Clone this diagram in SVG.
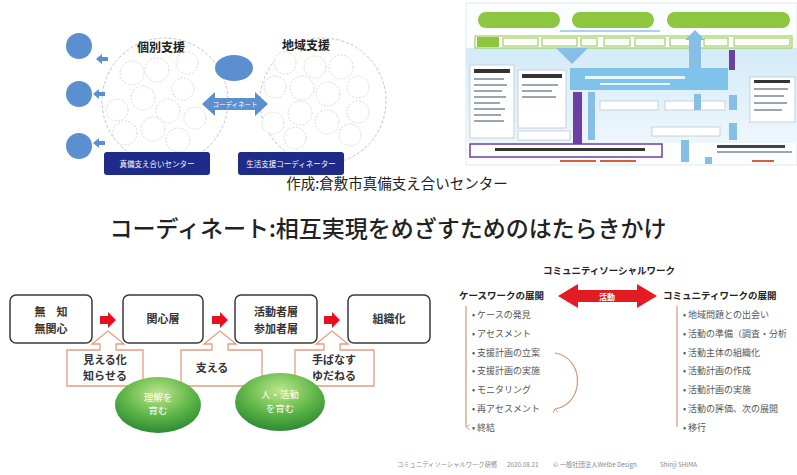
<svg xmlns="http://www.w3.org/2000/svg" width="797" height="475" viewBox="0 0 797 475">
<defs>
  <radialGradient id="grn" cx="50%" cy="30%" r="70%">
    <stop offset="0" stop-color="#bfe68f"/>
    <stop offset="0.55" stop-color="#63b84a"/>
    <stop offset="1" stop-color="#2c8a33"/>
  </radialGradient>
  <linearGradient id="sky" x1="0" y1="0" x2="0" y2="1">
    <stop offset="0" stop-color="#d4ebf8"/>
    <stop offset="1" stop-color="#eef6fc"/>
  </linearGradient>
  <marker id="ah" viewBox="0 0 10 10" refX="5" refY="9" markerWidth="5" markerHeight="5" orient="auto-start-reverse">
    <path d="M1,3 L5,9 L9,3" fill="none" stroke="#d9957a" stroke-width="1.5"/>
  </marker>
</defs>
<style>
  text{font-family:"Noto Sans CJK JP","Noto Sans",sans-serif}
  .bc{fill:#5b8fd0}
  .big{fill:#fff;stroke:#c4c4c4;stroke-width:1;stroke-dasharray:3 2}
  .sm{fill:#fff;stroke:#cfcfcf;stroke-width:0.8;stroke-dasharray:2 1.5}
  .navy{fill:#1f2b88}
  .wt{fill:#fff;text-anchor:middle}
  .ttl{font-size:12px;font-weight:bold;fill:#222;text-anchor:middle}
  .box{fill:#fff;stroke:#3a3a3a;stroke-width:1.5}
  .bt{font-size:11px;font-weight:bold;fill:#333;text-anchor:middle}
  .call{fill:#fff;stroke:#e89c7e;stroke-width:1.3}
  .ct{font-size:11px;font-weight:bold;fill:#333;text-anchor:middle}
  .ell{fill:url(#grn)}
  .et{font-size:9.5px;fill:#fff;text-anchor:middle}
  .red{fill:#e8101e}
  .li{font-size:9px;fill:#555}
  .hd{font-size:9.5px;font-weight:bold;fill:#222}
  .vl{stroke:#d9957a;stroke-width:1.2;fill:none}
  .pill{fill:#8dc63f}
  .tab{fill:#fff;stroke:#8dc63f;stroke-width:1}
  .wb{fill:#fff;stroke:#b9c9d8;stroke-width:0.8}
  .pu{fill:#6b3fa6}
  .lb{fill:#86bfe6}
  .gl{fill:#9aa6b2}
</style>

<!-- ===== Top-left diagram ===== -->
<g id="support-diagram">
  <g id="individual-support">
    <circle class="big" cx="165" cy="101" r="63"/>
    <text class="ttl" x="161" y="52">個別支援</text>
    <circle class="sm" cx="132" cy="73" r="12"/>
    <circle class="sm" cx="157" cy="70" r="12"/>
    <circle class="sm" cx="187" cy="63" r="11"/>
    <circle class="sm" cx="183" cy="89" r="11"/>
    <circle class="sm" cx="143" cy="98" r="12"/>
    <circle class="sm" cx="168" cy="111" r="12"/>
    <circle class="sm" cx="117" cy="110" r="11"/>
    <circle class="sm" cx="195" cy="118" r="11"/>
    <circle class="sm" cx="125" cy="133" r="12"/>
    <circle class="sm" cx="153" cy="129" r="12"/>
    <circle class="sm" cx="178" cy="140" r="12"/>
  </g>
  <g id="regional-support">
    <circle class="big" cx="323" cy="101" r="63"/>
    <text class="ttl" x="306" y="50">地域支援</text>
    <circle class="sm" cx="285" cy="63" r="11"/>
    <circle class="sm" cx="315" cy="67" r="11"/>
    <circle class="sm" cx="341" cy="67" r="12"/>
    <circle class="sm" cx="275" cy="87" r="11"/>
    <circle class="sm" cx="302" cy="88" r="12"/>
    <circle class="sm" cx="328" cy="94" r="12"/>
    <circle class="sm" cx="358" cy="87" r="11"/>
    <circle class="sm" cx="300" cy="113" r="12"/>
    <circle class="sm" cx="327" cy="122" r="12"/>
    <circle class="sm" cx="358" cy="112" r="11"/>
    <circle class="sm" cx="273" cy="123" r="11"/>
    <circle class="sm" cx="295" cy="138" r="11"/>
    <circle class="sm" cx="350" cy="135" r="11"/>
  </g>
  <g id="outer-circles">
    <circle class="bc" cx="79" cy="46" r="13"/>
    <circle class="bc" cx="79" cy="94" r="13"/>
    <circle class="bc" cx="79" cy="146" r="13"/>
  </g>
  <g id="small-arrows">
    <path class="bc" d="M96,59 L102,54 V57 H108 V61 H102 V64 Z"/>
    <path class="bc" d="M93,94 L99,89 V92 H105 V96 H99 V99 Z"/>
    <path class="bc" d="M93,143 L99,138 V141 H105 V145 H99 V148 Z"/>
  </g>
  <g id="middle-ellipse">
    <ellipse class="bc" cx="234" cy="68" rx="19" ry="13"/>
  </g>
  <g id="coordinate-arrow">
    <path class="bc" d="M202,104 L215,92 V98 H255 V92 L268,104 L255,116 V110 H215 V116 Z"/>
    <text class="wt" x="235" y="107" font-size="6.5">コーディネート</text>
  </g>
  <g id="center-bar">
    <rect class="navy" x="104" y="152" width="106" height="23" rx="3"/>
    <text class="wt" x="157" y="167" font-size="7.5">真備支え合いセンター</text>
  </g>
  <g id="coordinator-bar">
    <rect class="navy" x="238" y="152" width="106" height="23" rx="3"/>
    <text class="wt" x="291" y="167" font-size="7.5">生活支援コーディネーター</text>
  </g>
</g>

<!-- ===== Top-right chart ===== -->
<g id="structure-chart">
  <rect x="466" y="3" width="331" height="162" fill="#fbfdfe" stroke="#dde4ea" stroke-width="0.8"/>
  <rect x="466" y="48" width="331" height="95" fill="url(#sky)"/>
  <rect class="pill" x="478" y="12" width="82" height="16" rx="8"/>
  <rect class="pill" x="572" y="12" width="82" height="16" rx="8"/>
  <rect class="pill" x="667" y="12" width="123" height="16" rx="8"/>
  <line x1="560" y1="31" x2="660" y2="31" stroke="#5aa7dd" stroke-width="1"/>
  <rect x="475" y="36" width="317" height="12" fill="#fff" stroke="#8dc63f" stroke-width="1"/>
  <rect class="pill" x="477" y="37" width="22" height="10"/>
  <rect class="tab" x="503" y="38" width="35" height="8"/>
  <rect class="tab" x="542" y="38" width="35" height="8"/>
  <rect class="tab" x="581" y="38" width="16" height="8"/>
  <rect class="tab" x="604" y="38" width="26" height="8"/>
  <rect class="tab" x="635" y="38" width="30" height="8"/>
  <rect class="tab" x="670" y="38" width="29" height="8"/>
  <rect class="tab" x="704" y="38" width="24" height="8"/>
  <rect class="tab" x="734" y="38" width="56" height="8"/>
  <path class="lb" d="M556,48 H588 L572,64 Z"/>
  <rect class="wb" x="470" y="65" width="44" height="73"/>
  <rect x="474" y="69" width="36" height="4" fill="#333"/>
  <rect class="gl" x="474" y="78" width="30" height="2"/>
  <rect class="gl" x="474" y="84" width="33" height="2"/>
  <rect class="gl" x="474" y="90" width="28" height="2"/>
  <rect class="gl" x="474" y="96" width="32" height="2"/>
  <rect class="gl" x="474" y="102" width="26" height="2"/>
  <rect class="gl" x="474" y="108" width="31" height="2"/>
  <rect class="gl" x="474" y="114" width="27" height="2"/>
  <rect class="gl" x="474" y="120" width="30" height="2"/>
  <rect class="wb" x="518" y="70" width="48" height="58" stroke="#9a7cc6"/>
  <rect x="522" y="74" width="40" height="4" fill="#333"/>
  <rect class="gl" x="522" y="84" width="36" height="2"/>
  <rect class="gl" x="522" y="90" width="30" height="2"/>
  <rect class="gl" x="522" y="96" width="34" height="2"/>
  <rect class="wb" x="518" y="131" width="52" height="9" stroke="#9a7cc6"/>
  <rect x="570" y="68" width="158" height="22" fill="#7fc3ea"/>
  <rect x="585" y="76" width="100" height="3" fill="#e8f5fc"/>
  <rect x="600" y="83" width="70" height="2" fill="#e8f5fc"/>
  <path class="lb" d="M689,70 V40 H685 L695,30 L705,40 H701 V70 Z"/>
  <rect class="pu" x="729" y="50" width="6" height="20"/>
  <rect class="pu" x="573" y="92" width="9" height="52"/>
  <rect class="lb" x="588" y="92" width="7" height="48"/>
  <rect class="wb" x="750" y="77" width="45" height="45"/>
  <rect x="754" y="80" width="36" height="3" fill="#333"/>
  <rect class="gl" x="754" y="88" width="34" height="2"/>
  <rect class="gl" x="754" y="95" width="30" height="2"/>
  <rect class="gl" x="754" y="102" width="33" height="2"/>
  <rect class="gl" x="754" y="109" width="28" height="2"/>
  <rect class="wb" x="600" y="101" width="58" height="9"/>
  <rect class="wb" x="665" y="101" width="60" height="9"/>
  <rect class="lb" x="694" y="94" width="7" height="16"/>
  <rect class="lb" x="729" y="95" width="8" height="15"/>
  <rect class="lb" x="729" y="123" width="8" height="17"/>
  <rect class="wb" x="652" y="127" width="68" height="9"/>
  <rect x="470" y="144" width="192" height="13" fill="#fff" stroke="#6b3fa6" stroke-width="1.5"/>
  <rect x="495" y="148" width="150" height="3" fill="#333"/>
  <rect class="lb" x="681" y="140" width="8" height="22"/>
  <rect class="lb" x="705" y="157" width="7" height="7"/>
  <rect x="717" y="145" width="68" height="3" fill="#444"/>
  <rect class="gl" x="717" y="151" width="75" height="2"/>
  <rect x="560" y="160" width="36" height="2" fill="#e05a3a"/>
  <rect x="600" y="160" width="36" height="2" fill="#e05a3a"/>
  <rect x="752" y="160" width="22" height="2" fill="#e05a3a"/>
</g>

<!-- ===== Titles ===== -->
<g id="titles">
  <text x="397" y="189" font-size="14.5" fill="#222" text-anchor="middle">作成:倉敷市真備支え合いセンター</text>
  <text x="388" y="237" font-size="23" font-weight="500" fill="#222" text-anchor="middle">コーディネート:相互実現をめざすためのはたらきかけ</text>
</g>

<!-- ===== Bottom-left flow ===== -->
<g id="flow">
  <g id="connectors">
    <path class="red" d="M100,316 H108 V312 L116,320 L108,328 V324 H100 Z"/>
    <path class="red" d="M212,316 H220 V312 L228,320 L220,328 V324 H212 Z"/>
    <path class="red" d="M324,316 H332 V312 L340,320 L332,328 V324 H324 Z"/>
  </g>
  <g id="node-mukanshin">
    <rect class="box" x="10" y="295" width="82" height="48" rx="6"/>
    <text class="bt" x="51" y="316">無　知</text>
    <text class="bt" x="51" y="333">無関心</text>
  </g>
  <g id="node-kanshin">
    <rect class="box" x="123" y="295" width="80" height="48" rx="6"/>
    <text class="bt" x="163" y="323">関心層</text>
  </g>
  <g id="node-katsudo">
    <rect class="box" x="235" y="295" width="82" height="48" rx="6"/>
    <text class="bt" x="276" y="316">活動者層</text>
    <text class="bt" x="276" y="333">参加者層</text>
  </g>
  <g id="node-soshikika">
    <rect class="box" x="348" y="295" width="82" height="48" rx="6"/>
    <text class="bt" x="389" y="323">組織化</text>
  </g>
  <g id="callout-mieruka">
    <path class="call" d="M67,350 H100 V344 H92 L108,331 L124,344 H116 V350 H143 V386 H67 Z"/>
    <text class="ct" x="105" y="364">見える化</text>
    <text class="ct" x="105" y="380">知らせる</text>
  </g>
  <g id="callout-sasaeru">
    <path class="call" d="M181,350 H212 V344 H204 L220,331 L236,344 H228 V350 H262 V386 H181 Z"/>
    <text class="ct" x="212" y="372">支える</text>
  </g>
  <g id="callout-tebanasu">
    <path class="call" d="M295,350 H324 V344 H316 L332,331 L348,344 H340 V350 H374 V386 H295 Z"/>
    <text class="ct" x="334" y="364">手ばなす</text>
    <text class="ct" x="334" y="380">ゆだねる</text>
  </g>
  <g id="ellipse-rikai">
    <ellipse class="ell" cx="158" cy="405" rx="43" ry="28"/>
    <text class="et" x="158" y="401">理解を</text>
    <text class="et" x="158" y="414">育む</text>
  </g>
  <g id="ellipse-hito">
    <ellipse class="ell" cx="280" cy="402" rx="45" ry="29"/>
    <text class="et" x="280" y="398" font-size="10">人・活動</text>
    <text class="et" x="280" y="412" font-size="10">を育む</text>
  </g>
</g>

<!-- ===== Bottom-right ===== -->
<g id="csw">
  <text class="hd" x="609" y="274" text-anchor="middle">コミュニティソーシャルワーク</text>
  <g id="casework">
    <text class="hd" x="459" y="299">ケースワークの展開</text>
    <line class="vl" x1="466" y1="306" x2="466" y2="427" marker-end="url(#ah)"/>
    <text class="li" x="472" y="318">•  ケースの発見</text>
    <text class="li" x="472" y="337">•  アセスメント</text>
    <text class="li" x="472" y="356">•  支援計画の立案</text>
    <text class="li" x="472" y="374">•  支援計画の実施</text>
    <text class="li" x="472" y="393">•  モニタリング</text>
    <text class="li" x="472" y="412">•  再アセスメント</text>
    <text class="li" x="472" y="431">•  終結</text>
    <path class="vl" d="M555,353 C585,358 585,404 555,409" marker-end="url(#ah)"/>
  </g>
  <g id="katsudo-arrow">
    <path fill="#e31b23" d="M558,296 L578,284 V290 H637 V284 L657,296 L637,308 V302 H578 V308 Z"/>
    <text x="607" y="299.5" font-size="8" font-weight="bold" fill="#fff" text-anchor="middle">活動</text>
  </g>
  <g id="communitywork">
    <text class="hd" x="663" y="299">コミュニティワークの展開</text>
    <line class="vl" x1="677" y1="306" x2="677" y2="427"/>
    <text class="li" x="683" y="318">•  地域問題との出会い</text>
    <text class="li" x="683" y="337">•  活動の準備（調査・分析</text>
    <text class="li" x="683" y="356">•  活動主体の組織化</text>
    <text class="li" x="683" y="374">•  活動計画の作成</text>
    <text class="li" x="683" y="393">•  活動計画の実施</text>
    <text class="li" x="683" y="412">•  活動の評価、次の展開</text>
    <text class="li" x="683" y="431">•  移行</text>
  </g>
</g>

<g id="footer" font-size="6.3" fill="#888">
  <text x="397" y="467">コミュニティソーシャルワーク研修</text>
  <text x="507" y="467">2020.08.21</text>
  <text x="553" y="467">© 一般社団法人Welbe Design</text>
  <text x="660" y="467">Shinji SHIMA</text>
</g>
</svg>
